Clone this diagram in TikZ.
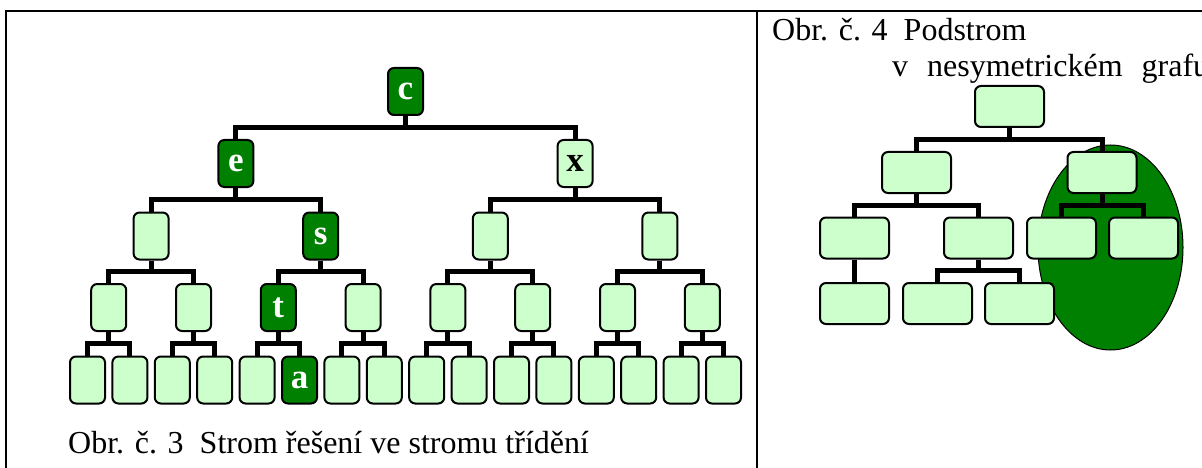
\documentclass[tikz,border=0pt]{standalone}
\usepackage{fontspec}
\setmainfont{Liberation Serif}
\usetikzlibrary{calc,backgrounds}
\definecolor{dg}{RGB}{0,128,0}
\definecolor{lg}{RGB}{204,255,204}
\begin{document}
\begin{tikzpicture}[x=1pt,y=-1pt,
  box/.style={draw=black, line width=2pt, rounded corners=6pt, fill=lg,
    minimum width=35pt, minimum height=47pt, inner sep=0pt,
    font=\fontsize{35}{40}\selectfont\bfseries},
  hit/.style={box, fill=dg, text=white},
  wbox/.style={box, minimum width=69pt, minimum height=41pt},
  conn/.style={line width=5pt, line join=miter},
  frameline/.style={line width=2.5pt},
  captxt/.style={inner sep=0pt, anchor=base west, font=\fontsize{32}{36}\selectfont}]
\useasboundingbox (0,0) rectangle (1202,468);

% frame
\draw[frameline] (6,472) -- (6,11) -- (1206,11);
\draw[frameline] (757,11) -- (757,472);

% left tree nodes
\foreach \id/\xx/\yy/\st/\lab in {
  1/405.5/91.5/hit/c,
  2/235.9/163.5/hit/e, 3/575.1/163.5/box/x,
  4/151.1/236/box/{}, 5/320.7/236/hit/s, 6/490.3/236/box/{}, 7/659.9/236/box/{},
  8/108.7/307.5/box/{}, 9/193.5/307.5/box/{}, 10/278.3/307.5/hit/t, 11/363.1/307.5/box/{},
  12/447.9/307.5/box/{}, 13/532.7/307.5/box/{}, 14/617.5/307.5/box/{}, 15/702.3/307.5/box/{},
  16/87.5/380/box/{}, 17/129.9/380/box/{}, 18/172.3/380/box/{}, 19/214.7/380/box/{},
  20/257.1/380/box/{}, 21/299.5/380/hit/a, 22/341.9/380/box/{}, 23/384.3/380/box/{},
  24/426.7/380/box/{}, 25/469.1/380/box/{}, 26/511.5/380/box/{}, 27/553.9/380/box/{},
  28/596.3/380/box/{}, 29/638.7/380/box/{}, 30/681.1/380/box/{}, 31/723.5/380/box/{}}
  \node[\st] (t\id) at (\xx,\yy) {\lab};

% right tree nodes
\foreach \id/\xx/\yy in {
  0/1009.5/106.5,
  1/916.5/172.5, 2/1102/172.5,
  3/854.5/238, 4/978.5/238, 5/1061.5/238, 6/1143.5/238,
  7/854.5/303.5, 8/937.5/303.5, 9/1019.5/303.5}
  \node[wbox] (r\id) at (\xx,\yy) {};

\begin{pgfonlayer}{background}
  \draw[fill=dg, line width=1pt] (1110.5,247.5) ellipse [x radius=72.5pt, y radius=102.5pt];
  \foreach \c in {2,...,31} {
    \pgfmathtruncatemacro\p{int(\c/2)}
    \draw[conn] (t\p.south) |- ($(t\p.south)!0.5!(t\c.north)$) -| (t\c.north);
  }
  \foreach \p/\c in {0/1,0/2,1/3,1/4,2/5,2/6,3/7,4/8,4/9}
    \draw[conn] (r\p.south) |- ($(r\p.south)!0.5!(r\c.north)$) -| (r\c.north);
\end{pgfonlayer}

% captions
\node[captxt] (cap3) at (68,453) {Obr. č. 3~~Strom řešení ve stromu třídění};
\node[captxt] (cap4a) at (772,41) {Obr. č. 4~~Podstrom};
\node[captxt] (cap4b) at (892,77) {v\hspace{19pt}nesymetrickém\hspace{19pt}grafu};
\end{tikzpicture}
\end{document}
